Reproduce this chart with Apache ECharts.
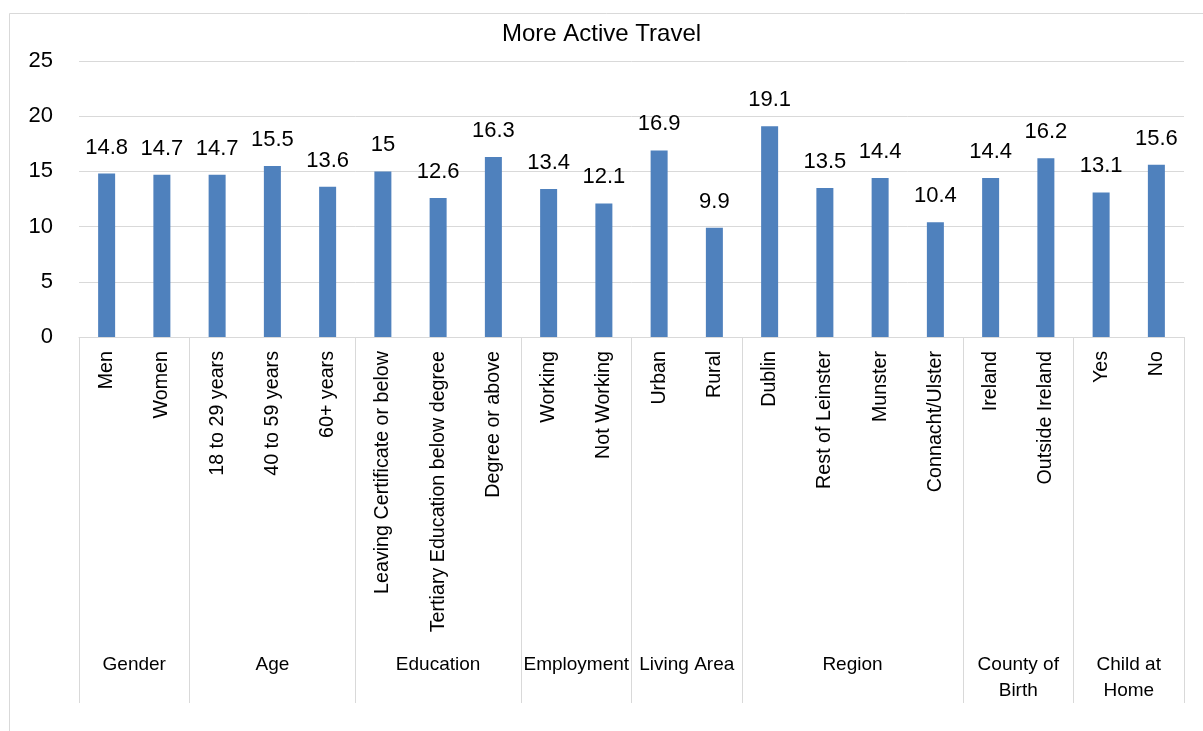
<!DOCTYPE html>
<html>
<head>
<meta charset="utf-8">
<script src="https://cdn.jsdelivr.net/npm/echarts@6/dist/echarts.min.js"></script>
<style>
html,body{margin:0;padding:0;background:#fff;}
#chart{width:1203px;height:731px;}
</style>
</head>
<body>
<div id="chart"></div>
<script>
const titleText = 'More Active Travel';
const categories = ['Men','Women','18 to 29 years','40 to 59 years','60+ years',
  'Leaving Certificate or below','Tertiary Education below degree','Degree or above',
  'Working','Not Working','Urban','Rural','Dublin','Rest of Leinster','Munster',
  'Connacht/Ulster','Ireland','Outside Ireland','Yes','No'];
const values = [14.8,14.7,14.7,15.5,13.6,15,12.6,16.3,13.4,12.1,16.9,9.9,19.1,13.5,14.4,10.4,14.4,16.2,13.1,15.6];
const groupNames = ['Gender','Age','Education','Employment','Living Area','Region','County of\nBirth','Child at\nHome'];
const groupSizes = [2,3,3,2,2,4,2,2];
const yTicks = [0,5,10,15,20,25];

// Build half-step axis for the group level
const halfCount = categories.length * 2 + 1;
const groupAxisData = new Array(halfCount).fill('');
const boundarySet = new Set([0]);
let start = 0;
groupNames.forEach((g, i) => {
  groupAxisData[start * 2 + groupSizes[i]] = g;
  start += groupSizes[i];
  boundarySet.add(start * 2);
});

const FONT = 'Liberation Sans';
const chart = echarts.init(document.getElementById('chart'));
chart.setOption({
  animation: false,
  backgroundColor: '#fff',
  textStyle: { fontFamily: FONT },
  title: {
    text: titleText, left: 'center', top: 17,
    textStyle: { fontFamily: FONT, fontSize: 24, fontWeight: 'normal', color: '#000' }
  },
  graphic: [{
    type: 'rect', shape: { x: 9.5, y: 13.5, width: 1210, height: 740 },
    style: { fill: 'none', stroke: '#d9d9d9', lineWidth: 1 }, silent: true
  }],
  grid: { left: 79, right: 19, top: 61, bottom: 394 },
  xAxis: [{
    type: 'category', data: categories, position: 'bottom',
    axisLine: { show: true, lineStyle: { color: '#d9d9d9', width: 1 } },
    axisTick: { show: false },
    axisLabel: { rotate: 90, interval: 0, margin: 14, fontSize: 19.7, color: '#000', fontFamily: FONT }
  }, {
    type: 'category', data: groupAxisData, position: 'bottom', boundaryGap: false,
    axisLine: { show: false },
    axisTick: { show: true, length: 366, interval: (idx) => boundarySet.has(idx),
      lineStyle: { color: '#d9d9d9', width: 1 } },
    axisLabel: { interval: 0, margin: 315, fontSize: 19, lineHeight: 26, color: '#000', fontFamily: FONT }
  }],
  yAxis: {
    type: 'value', min: 0, max: 25, interval: 5,
    axisLine: { show: false }, axisTick: { show: false },
    splitLine: { lineStyle: { color: '#d9d9d9', width: 1 } },
    axisLabel: { margin: 26, fontSize: 22, color: '#000', fontFamily: FONT,
      customValues: yTicks }
  },
  series: [{
    type: 'bar', data: values, xAxisIndex: 0, barWidth: 17,
    itemStyle: { color: '#4F81BD' },
    label: { show: true, position: 'top', distance: 15, fontSize: 22, color: '#000', fontFamily: FONT }
  }]
});
</script>
</body>
</html>
